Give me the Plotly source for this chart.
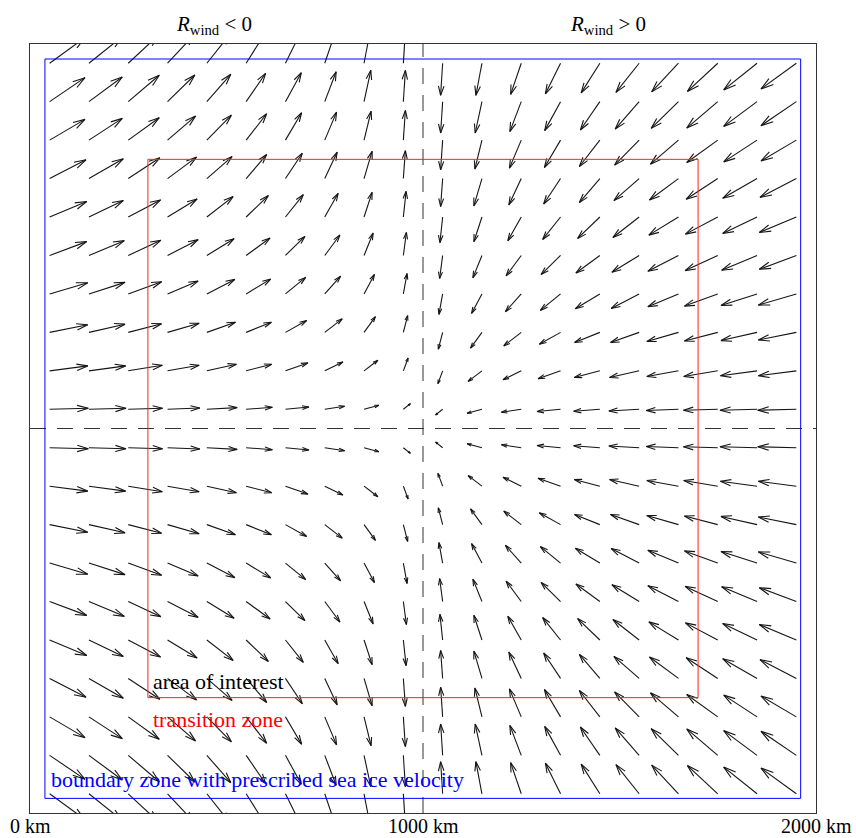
import numpy as np
import plotly.graph_objects as go
import plotly.figure_factory as ff

# grid of arrow tails (km)
X_KM = [50, 150, 250, 350, 450, 550, 650, 750, 850, 950,
        1050, 1150, 1250, 1350, 1450, 1550, 1650, 1750, 1850, 1950]
Y_KM = X_KM[:]

# wind components read from the upper-left quadrant (x = 50..950, y = 1050..1950)
# rows: y = 1050 .. 1950, columns: x = 50 .. 950 (relative units)
U_UL = [
    [38.3, 36.7, 34.0, 32.0, 30.0, 26.0, 23.3, 19.7, 14.7, 7.0],
    [37.7, 36.3, 33.7, 31.3, 29.3, 25.3, 22.3, 18.0, 13.7, 4.7],
    [37.7, 35.7, 33.0, 31.3, 28.3, 25.0, 21.0, 17.3, 11.3, 4.3],
    [37.7, 35.7, 33.0, 30.3, 27.7, 24.3, 20.0, 15.7, 10.3, 3.7],
    [36.7, 35.0, 32.3, 30.3, 27.0, 23.7, 19.3, 15.0, 9.0, 3.0],
    [36.7, 34.0, 32.0, 29.3, 26.0, 22.0, 17.7, 13.3, 8.0, 2.7],
    [36.0, 34.0, 31.3, 28.7, 25.0, 20.3, 16.7, 12.3, 8.0, 2.0],
    [35.0, 33.0, 30.7, 27.7, 24.3, 20.3, 16.0, 11.7, 7.0, 2.0],
    [35.0, 33.0, 30.7, 27.0, 23.7, 19.3, 15.7, 11.3, 6.7, 2.0],
    [35.0, 33.0, 30.0, 26.5, 23.0, 18.5, 15.0, 10.5, 6.0, 2.0],
]
V_UL = [
    [1.0, 1.0, 1.0, 1.3, 1.7, 2.0, 2.3, 3.0, 4.0, 5.7],
    [5.0, 5.0, 5.7, 5.7, 6.7, 6.7, 8.0, 9.0, 10.7, 13.0],
    [7.7, 8.3, 8.7, 9.3, 10.3, 10.3, 12.0, 13.7, 16.0, 17.0],
    [11.3, 11.7, 12.3, 13.0, 14.7, 15.0, 16.7, 18.0, 19.7, 20.7],
    [14.0, 15.0, 15.3, 16.0, 17.0, 17.7, 19.3, 20.7, 22.7, 23.3],
    [15.7, 16.7, 17.3, 18.3, 20.7, 21.7, 22.7, 24.0, 25.0, 26.0],
    [19.0, 20.0, 21.0, 21.7, 22.3, 24.3, 25.7, 26.7, 27.7, 28.3],
    [21.0, 22.0, 22.7, 24.3, 25.3, 26.7, 27.7, 28.3, 29.3, 30.0],
    [24.3, 25.0, 26.7, 27.0, 27.7, 28.7, 29.3, 30.3, 31.7, 31.7],
    [26.0, 27.0, 28.5, 29.0, 29.5, 30.0, 31.0, 31.5, 32.5, 32.5],
]

TICK_VALS = [0, 1000, 2000]
TICK_TEXT = ["0 km", "1000 km", "2000 km"]
LABEL_LEFT = "<i>R</i><sub>wind</sub> &lt; 0"
LABEL_RIGHT = "<i>R</i><sub>wind</sub> &gt; 0"
ZONE_LABELS = ["area of interest", "transition zone",
               "boundary zone with prescribed sea ice velocity"]

# assemble full field from quadrant using the picture's mirror symmetry
ul_u = np.array(U_UL)
ul_v = np.array(V_UL)
upper_u = np.hstack([ul_u, -ul_u[:, ::-1]])
upper_v = np.hstack([ul_v, -ul_v[:, ::-1]])
lower_u = upper_u[::-1, :]
lower_v = -upper_v[::-1, :]
U = np.vstack([lower_u, upper_u])
V = np.vstack([lower_v, upper_v])

XX, YY = np.meshgrid(X_KM, Y_KM)

fig = ff.create_quiver(XX.ravel(), YY.ravel(), U.ravel(), V.ravel(),
                       scale=2.57, arrow_scale=0.3, angle=np.pi / 11,
                       line=dict(color="#151515", width=1.1))
fig.update_traces(showlegend=False, hoverinfo="skip")

font = "Liberation Serif, Times New Roman, serif"
dash = "16px,11px"
shapes = [
    dict(type="line", x0=1000, x1=1000, y0=0, y1=2000,
         line=dict(color="#333333", width=1, dash=dash)),
    dict(type="line", x0=0, x1=2000, y0=1000, y1=1000,
         line=dict(color="#333333", width=1, dash=dash)),
    dict(type="rect", x0=300, x1=1700, y0=300, y1=1700,
         line=dict(color="#ff2020", width=1)),
    dict(type="rect", x0=38, x1=1961, y0=38, y1=1961,
         line=dict(color="#0000ff", width=1)),
]
annotations = [
    dict(x=307, y=341, xref="x", yref="y", text=ZONE_LABELS[0], showarrow=False,
         xanchor="left", yanchor="middle", font=dict(color="black", size=22, family=font)),
    dict(x=309, y=244, xref="x", yref="y", text=ZONE_LABELS[1], showarrow=False,
         xanchor="left", yanchor="middle", font=dict(color="#ff0000", size=22, family=font)),
    dict(x=49, y=86, xref="x", yref="y", text=ZONE_LABELS[2], showarrow=False,
         xanchor="left", yanchor="middle", font=dict(color="#0000ff", size=22, family=font)),
    dict(x=468, y=1.025, xref="x", yref="paper", text=LABEL_LEFT, showarrow=False,
         xanchor="center", yanchor="middle", font=dict(color="black", size=21, family=font)),
    dict(x=1471, y=1.025, xref="x", yref="paper", text=LABEL_RIGHT, showarrow=False,
         xanchor="center", yanchor="middle", font=dict(color="black", size=21, family=font)),
]
for tv, tt in zip(TICK_VALS, TICK_TEXT):
    annotations.append(dict(x=tv, y=-0.0175, xref="x", yref="paper", text=tt,
                            showarrow=False, xanchor="center", yanchor="middle",
                            font=dict(color="black", size=20, family=font)))

fig.update_layout(
    width=856, height=838,
    margin=dict(l=30, r=40, t=44, b=25),
    paper_bgcolor="white", plot_bgcolor="white",
    showlegend=False,
    shapes=shapes, annotations=annotations,
    font=dict(family=font, size=21, color="black"),
    xaxis=dict(range=[0, 2000], showgrid=False, zeroline=False, showline=True,
               mirror=True, linecolor="#333333", linewidth=1, ticks="",
               showticklabels=False, automargin=False),
    yaxis=dict(range=[0, 2000], showgrid=False, zeroline=False, showline=True,
               mirror=True, linecolor="#333333", linewidth=1, ticks="",
               showticklabels=False, automargin=False),
)

# remove the default 8px page margin so the figure fills the window exactly
fig.write_html("out.html",
               config={"displayModeBar": False, "staticPlot": True},
               post_script="document.body.style.margin='0';"
                           "document.body.style.overflow='hidden';")
